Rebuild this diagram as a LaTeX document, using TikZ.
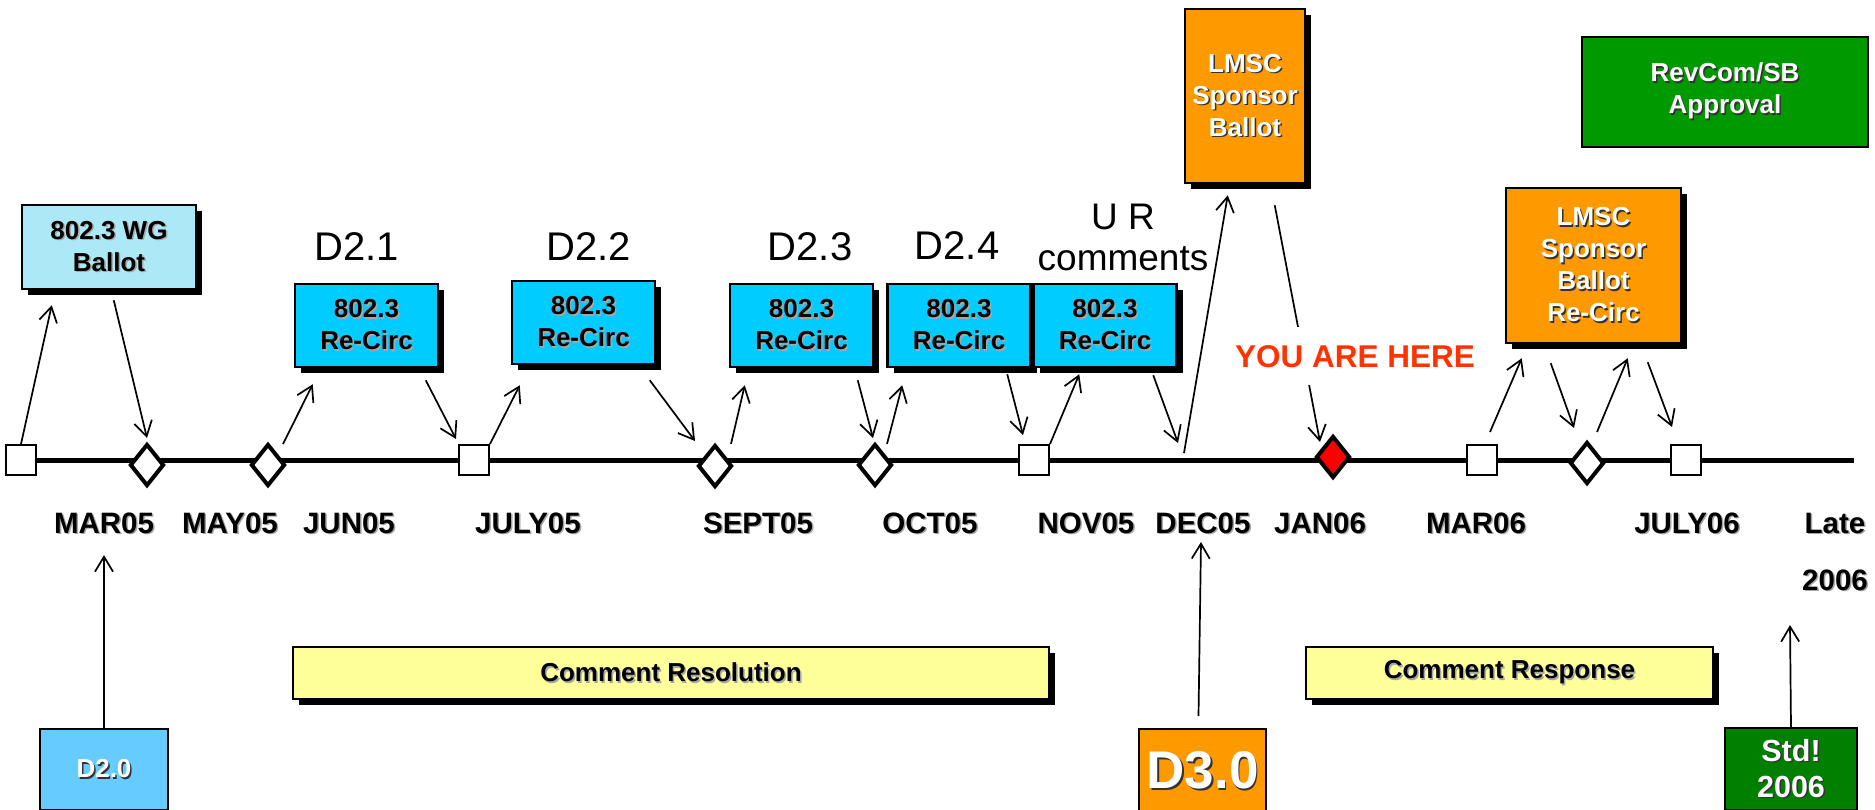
\documentclass[tikz,border=0pt]{standalone}
\usepackage{fontspec}
\setmainfont{Liberation Sans}
\RequirePackage{xcolor}
\usetikzlibrary{arrows.meta,shapes.geometric,shadows}

\definecolor{wgblue}{HTML}{AAE9F5}
\definecolor{rcblue}{HTML}{00CCFF}
\definecolor{drblue}{HTML}{66CCFF}
\definecolor{lmorange}{HTML}{FF9900}
\definecolor{rvgreen}{HTML}{009900}
\definecolor{stdgreen}{HTML}{007F00}
\definecolor{crpale}{HTML}{FFFF99}
\definecolor{herered}{HTML}{FF3300}

\newcommand{\shd}[2][black!35]{\leavevmode\rlap{\kern1.5pt\raisebox{-1.5pt}{\textcolor{#1}{#2}}}#2}
\newcommand{\wshd}[1]{\shd[black!80]{#1}}

\begin{document}
\begin{tikzpicture}[x=1pt,y=-1pt,>={Straight Barb[length=15pt,width=18pt]},
	arrow/.style={->,line width=1.7pt},
	box node/.style={draw,line width=2.5pt,align=center,inner sep=0pt,
		font=\fontsize{26}{32}\selectfont\bfseries},
	shade node/.style={box node,drop shadow={shadow xshift=6pt,shadow yshift=-6pt,fill=black,opacity=1}},
	recirc node/.style={shade node,fill=rcblue,minimum width=143pt,minimum height=83pt},
	sq node/.style={draw,line width=2pt,fill=white,minimum size=30pt,inner sep=0pt},
	dm node/.style={diamond,draw,line width=4pt,fill=white,minimum width=34pt,minimum height=42pt,inner sep=0pt},
	month node/.style={font=\fontsize{29.5}{36}\selectfont\bfseries,inner sep=0pt,anchor=base},
	draft node/.style={font=\fontsize{40}{48}\selectfont,inner sep=0pt,anchor=base}]
	\useasboundingbox (0,0) rectangle (1875,809);
	
	\coordinate (tl0) at (5,460);
	\coordinate (tl1) at (1854,460);
	\coordinate (dec) at (1181,452);
	\draw[line width=5pt] (tl0) -- (tl1);
	
	\node[sq node] (sq1) at (21,460) {};
	\node[dm node] (dm1) at (147,465) {};
	\node[dm node] (dm2) at (268,465) {};
	\node[sq node] (sq2) at (474,460) {};
	\node[dm node] (dm3) at (715,466) {};
	\node[dm node] (dm4) at (875,465) {};
	\node[sq node] (sq3) at (1034,460) {};
	\node[dm node,fill=red] (red) at (1333,457) {};
	\node[sq node] (sq4) at (1482,460) {};
	\node[dm node] (dm5) at (1587,463) {};
	\node[sq node] (sq5) at (1686,460) {};
	
	\node[shade node,fill=wgblue,minimum width=174pt,minimum height=84pt] (wg) at (109,247) {\shd{802.3 WG}\\\shd{Ballot}};
	\node[recirc node] (rc1) at (366.5,325.5) {\shd{802.3}\\\shd{Re-Circ}};
	\node[recirc node] (rc2) at (583.5,322.5) {\shd{802.3}\\\shd{Re-Circ}};
	\node[recirc node] (rc3) at (801.5,325.5) {\shd{802.3}\\\shd{Re-Circ}};
	\node[recirc node] (rc4) at (959,325.5) {\shd{802.3}\\\shd{Re-Circ}};
	\node[recirc node] (rc5) at (1105,325.5) {\shd{802.3}\\\shd{Re-Circ}};
	\node[shade node,fill=lmorange,text=white,minimum width=120pt,minimum height=174pt] (lmsc1) at (1245,96) {\wshd{LMSC}\\\wshd{Sponsor}\\\wshd{Ballot}};
	\node[box node,fill=rvgreen,text=white,minimum width=286pt,minimum height=110pt] (revcom) at (1725,92) {\wshd{RevCom/SB}\\\wshd{Approval}};
	\node[shade node,fill=lmorange,text=white,minimum width=175pt,minimum height=155pt] (lmsc2) at (1593.5,265.5) {\wshd{LMSC}\\\wshd{Sponsor}\\\wshd{Ballot}\\\wshd{Re-Circ}};
	
	\node[draft node] (d21) at (357,260) {D2.1};
	\node[draft node] (d22) at (589,260) {D2.2};
	\node[draft node] (d23) at (810,260) {D2.3};
	\node[draft node] (d24) at (957,259) {D2.4};
	\node[font=\fontsize{37}{41}\selectfont,align=center,inner sep=0pt] (ur) at (1123,237) {U R\\comments};
	
	\draw[arrow] (sq1.north) -- ([shift={(31,15)}]wg.south west);
	\draw[arrow] ([shift={(93,10)}]wg.south west) -- ([shift={(0,-4)}]dm1.north);
	\draw[arrow] ([shift={(15,-21)}]dm2.center) -- ([shift={(19,16)}]rc1.south west);
	\draw[arrow] ([shift={(132,12)}]rc1.south west) -- ([shift={(-2,-5)}]sq2.north west);
	\draw[arrow] (sq2.north east) -- ([shift={(9,20)}]rc2.south west);
	\draw[arrow] ([shift={(139,15)}]rc2.south west) -- ([shift={(-20,-25)}]dm3.center);
	\draw[arrow] ([shift={(16,-22)}]dm3.center) -- ([shift={(16,17)}]rc3.south west);
	\draw[arrow] ([shift={(129,12)}]rc3.south west) -- ([shift={(-2,-4)}]dm4.north);
	\draw[arrow] ([shift={(12,-21)}]dm4.center) -- ([shift={(16,17)}]rc4.south west);
	\draw[arrow] ([shift={(121,6)}]rc4.south west) -- ([shift={(5,-9)}]sq3.north west);
	\draw[arrow] (sq3.north east) -- ([shift={(47,6)}]rc5.south west);
	\draw[arrow] ([shift={(121,7)}]rc5.south west) -- ([shift={(-3,-9)}]dec);
	\draw[arrow] ([shift={(3,1)}]dec) -- ([shift={(44,11)}]lmsc1.south west);
	\draw[arrow] ([shift={(91,21)}]lmsc1.south west) -- ([shift={(-13,-15)}]red.center);
	\draw[arrow] ([shift={(8,-12)}]sq4.north) -- ([shift={(17,14)}]lmsc2.south west);
	\draw[arrow] ([shift={(46,19)}]lmsc2.south west) -- ([shift={(-13,-12)}]dm5.north);
	\draw[arrow] ([shift={(10,-8)}]dm5.north) -- ([shift={(123,14)}]lmsc2.south west);
	\draw[arrow] ([shift={(143,18)}]lmsc2.south west) -- ([shift={(2,-17)}]sq5.north west);
	
	\node[font=\fontsize{31.5}{36}\selectfont\bfseries,text=herered,fill=white,inner xsep=3pt,inner ysep=18pt,anchor=base] (here) at (1355,367) {YOU ARE HERE};
	
	\node[month node] (mar05) at (104,533) {\shd{MAR05}};
	\node[month node] (may05) at (230,533) {\shd{MAY05}};
	\node[month node] (jun05) at (349,533) {\shd{JUN05}};
	\node[month node] (jul05) at (528,533) {\shd{JULY05}};
	\node[month node] (sep05) at (758,533) {\shd{SEPT05}};
	\node[month node] (oct05) at (930,533) {\shd{OCT05}};
	\node[month node] (nov05) at (1086,533) {\shd{NOV05}};
	\node[month node] (dec05) at (1203,533) {\shd{DEC05}};
	\node[month node] (jan06) at (1320,533) {\shd{JAN06}};
	\node[month node] (mar06) at (1476,533) {\shd{MAR06}};
	\node[month node] (jul06) at (1687,533) {\shd{JULY06}};
	\node[month node] (late1) at (1835,533) {\shd{Late}};
	\node[month node] (late2) at (1835,590) {\shd{2006}};
	
	\node[shade node,fill=crpale,minimum width=756pt,minimum height=52pt] (cres) at (671,673) {\shd{Comment Resolution}};
	\node[shade node,fill=crpale,minimum width=407pt,minimum height=52pt] (cresp) at (1509.5,673) {\shd{Comment Response}};
	
	\node[box node,fill=drblue,text=white,line width=2pt,minimum width=128pt,minimum height=81pt] (d20) at (104,769.5) {\wshd{D2.0}};
	\node[box node,fill=lmorange,text=white,line width=2pt,minimum width=127pt,minimum height=85pt,font=\fontsize{53}{60}\selectfont\bfseries] (d30) at (1202.5,771.5) {\wshd{D3.0}};
	\node[box node,fill=stdgreen,text=white,line width=2pt,minimum width=132pt,minimum height=82pt,font=\fontsize{30.5}{36}\selectfont\bfseries] (std) at (1791,769) {\wshd{Std!}\\\wshd{2006}};
	
	\draw[arrow] (d20.north) -- ([shift={(0,22)}]mar05.base);
	\draw[arrow] ([shift={(-4,-12)}]d30.north) -- ([shift={(-2,9)}]dec05.base);
	\draw[arrow] (std.north) -- ([shift={(-45,35)}]late2.base);
\end{tikzpicture}
\end{document}
